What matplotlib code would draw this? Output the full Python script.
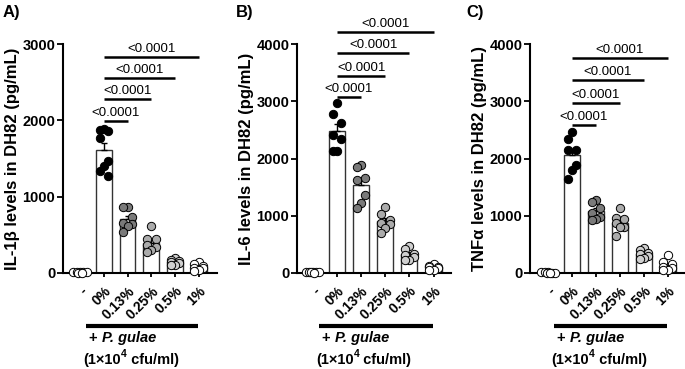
import numpy as np
import matplotlib
matplotlib.use("Agg")
import matplotlib.pyplot as plt
import matplotlib.transforms as mtransforms

plt.rcParams['font.family'] = ['Liberation Sans', 'DejaVu Sans']

# ---- data ----
groups = ["-", "0%", "0.13%", "0.25%", "0.5%", "1%"]

il1b = [
    [8, 12, 5, 10, 6, 9, 7],
    [1880, 1870, 1860, 1770, 1470, 1400, 1340, 1270],
    [870, 860, 730, 660, 640, 610, 540],
    [616, 441, 441, 367, 345, 300, 279],
    [190, 170, 160, 150, 130, 110, 100],
    [140, 120, 90, 70, 60, 40, 30],
]
il6 = [
    [15, 20, 10, 12, 18, 8, 14],
    [2964, 2777, 2626, 2410, 2335, 2136, 2136],
    [1886, 1857, 1654, 1624, 1362, 1228, 1130],
    [1160, 1030, 930, 880, 850, 780, 690],
    [470, 420, 340, 310, 280, 230, 220],
    [150, 130, 110, 100, 80, 60, 50],
]
tnfa = [
    [8, 10, 6, 12, 9, 7, 5],
    [2458, 2341, 2149, 2149, 1887, 1800, 1642],
    [1270, 1240, 1140, 1050, 980, 950, 920],
    [1130, 960, 940, 880, 810, 800, 640],
    [430, 400, 350, 340, 300, 260, 250],
    [320, 200, 150, 100, 80, 60, 50],
]

ylabels = ["IL-1\u03b2 levels in DH82 (pg/mL)",
           "IL-6 levels in DH82 (pg/mL)",
           "TNF\u03b1 levels in DH82 (pg/mL)"]
panel_tags = ["A)", "B)", "C)"]
ymaxes = [3000, 4000, 4000]
p_text = "<0.0001"
# heights of the comparison lines (0% vs 0.13/0.25/0.5/1%)
sig_heights = [
    [1995, 2275, 2558, 2833],
    [3080, 3441, 3838, 4215],
    [2585, 2975, 3371, 3750],
]

dot_colors = ["white", "black", "#7a7a7a", "#ababab", "#cfcfcf", "white"]

# ---- layout ----
fig = plt.figure(figsize=(6.85, 3.69), dpi=100)
W, H = 685.0, 369.0
ax_left_px = [63, 297, 530]
ax_w_px = 154
ax_bottom_px, ax_top_px = 273, 44
xlims = [(-0.72, 5.77), (-0.65, 5.72), (-0.76, 5.68)]
tag_x_px = [3, 236, 466]

jit = [0.0, -0.18, 0.18, -0.18, 0.18, 0.0, -0.18, 0.18]
jit_ctrl = [-0.28, -0.14, 0.0, 0.14, 0.28, -0.07, 0.07]

for k, data in enumerate([il1b, il6, tnfa]):
    ax = fig.add_axes([ax_left_px[k] / W, 1 - ax_bottom_px / H,
                       ax_w_px / W, (ax_bottom_px - ax_top_px) / H])
    x = np.arange(len(groups))
    means = np.array([np.mean(g) for g in data])
    sems = np.array([np.std(g, ddof=1) / np.sqrt(len(g)) for g in data])

    ax.bar(x, means, width=0.66, color="white", edgecolor="#333333",
           linewidth=1.0, zorder=1)
    ax.errorbar(x, means, yerr=[np.zeros_like(sems), sems], fmt="none",
                ecolor="black", elinewidth=1.0, capsize=2.5, capthick=1.0,
                zorder=2)
    for i, g in enumerate(data):
        vals = np.sort(np.array(g))[::-1]
        offs = jit_ctrl if i == 0 else jit
        xs = x[i] + np.array(offs[:len(vals)])
        ax.scatter(xs, vals, s=36, facecolor=dot_colors[i], edgecolor="black",
                   linewidth=0.7, zorder=3, clip_on=False)

    # comparison lines + p values
    for j, h in enumerate(sig_heights[k]):
        x2 = j + 2
        ax.plot([1, x2], [h, h], color="black", lw=1.8, clip_on=False,
                solid_capstyle="butt")
        ax.annotate(p_text, xy=((1 + x2) / 2, h), xytext=(0, 1.5),
                    textcoords="offset points", ha="center", va="bottom",
                    fontsize=9.5, annotation_clip=False)

    ax.set_xlim(*xlims[k])
    ax.set_ylim(0, ymaxes[k])
    ax.set_yticks(np.arange(0, ymaxes[k] + 1, 1000))
    ax.set_xticks(x)
    ax.set_xticklabels(groups, rotation=45, ha="right", rotation_mode="anchor",
                       fontsize=10, fontweight="bold")
    for lab in ax.get_yticklabels():
        lab.set_fontweight("bold")
    ax.tick_params(axis="y", labelsize=10.5, direction="out", length=4,
                   width=1.3, pad=1.5)
    ax.tick_params(axis="x", direction="out", length=3, width=1.3, pad=5)
    for s in ["top", "right"]:
        ax.spines[s].set_visible(False)
    for s in ["left", "bottom"]:
        ax.spines[s].set_linewidth(1.5)
    ax.set_ylabel(ylabels[k], fontsize=12, fontweight="bold", labelpad=2)

    # treatment bar and label under the x tick labels
    tr = mtransforms.blended_transform_factory(ax.transData, ax.transAxes)
    ax.plot([0.25, 4.96], [-0.231, -0.231], color="black", lw=3,
            transform=tr, clip_on=False, solid_capstyle="butt")
    t1 = ax.text(0.38, -0.284, "+ ", transform=tr, ha="left", va="center",
                 fontsize=10.5, fontweight="bold")
    ax.annotate("P. gulae", xy=(1, 0.5), xycoords=t1, ha="left", va="center",
                fontsize=10.5, fontweight="bold", fontstyle="italic")
    c1 = ax.text(0.13, -0.38, "(1\u00d710", transform=tr, ha="left",
                 va="center", fontsize=10.5, fontweight="bold")
    c2 = ax.annotate("4", xy=(1, 0.55), xycoords=c1, ha="left",
                     va="bottom", fontsize=7.5, fontweight="bold")
    ax.annotate(" cfu/ml)", xy=(1, 0.5), xycoords=(c2, c1), ha="left",
                va="center", fontsize=10.5, fontweight="bold")

    fig.text(tag_x_px[k] / W, 1 - 12 / H, panel_tags[k], ha="left",
             va="center", fontsize=12, fontweight="bold")

fig.savefig("out.png", dpi=100)
